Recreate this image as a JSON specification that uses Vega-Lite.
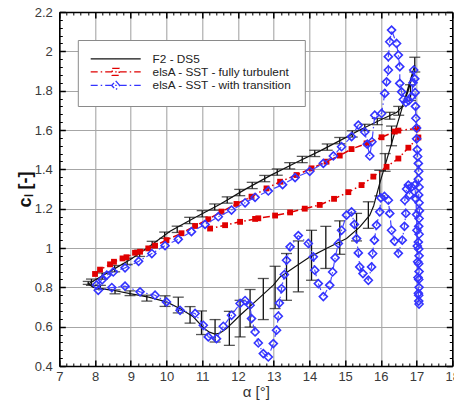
{
  "$schema": "https://vega.github.io/schema/vega-lite/v6.json",
  "width": 393,
  "height": 354,
  "autosize": "none",
  "padding": {"left": 59.3, "top": 12, "right": 1.7, "bottom": 35},
  "config": {
    "font": "Liberation Sans",
    "view": {"stroke": null},
    "axis": {"domain": false, "titleFontWeight": "normal"},
    "legend": {
      "orient": "none", "legendX": 18.5, "legendY": 28, "title": null,
      "padding": 13, "fillColor": "white", "strokeColor": "#8a8a8a",
      "symbolSize": 36, "symbolStrokeWidth": 1.4, "rowPadding": -1.5,
      "labelFontSize": 11.8, "labelColor": "#222", "labelOffset": 50, "labelLimit": 300
    }
  },
  "datasets": {
    "exp": [
      {"i": 1, "a": 7.8, "c": 0.82}, {"i": 2, "a": 7.86, "c": 0.822}, {"i": 3, "a": 8.5, "c": 0.89},
      {"i": 4, "a": 8.98, "c": 0.94}, {"i": 5, "a": 9.5, "c": 1.005}, {"i": 6, "a": 10.1, "c": 1.085},
      {"i": 7, "a": 10.8, "c": 1.155}, {"i": 8, "a": 11.5, "c": 1.222}, {"i": 9, "a": 12.2, "c": 1.298},
      {"i": 10, "a": 12.9, "c": 1.368}, {"i": 11, "a": 13.6, "c": 1.432}, {"i": 12, "a": 14.3, "c": 1.494},
      {"i": 13, "a": 15.0, "c": 1.56}, {"i": 14, "a": 15.41, "c": 1.6}, {"i": 15, "a": 16.0, "c": 1.652},
      {"i": 16, "a": 16.45, "c": 1.69}, {"i": 17, "a": 16.6, "c": 1.72}, {"i": 18, "a": 16.75, "c": 1.79},
      {"i": 19, "a": 16.88, "c": 1.87}, {"i": 20, "a": 16.95, "c": 1.93}, {"i": 21, "a": 16.6, "c": 1.715},
      {"i": 22, "a": 16.25, "c": 1.5}, {"i": 23, "a": 15.97, "c": 1.33}, {"i": 24, "a": 15.8, "c": 1.215},
      {"i": 25, "a": 15.69, "c": 1.167}, {"i": 26, "a": 15.4, "c": 1.105}, {"i": 27, "a": 15.04, "c": 1.048},
      {"i": 28, "a": 14.5, "c": 1.0}, {"i": 29, "a": 14.02, "c": 0.955}, {"i": 30, "a": 13.6, "c": 0.905},
      {"i": 31, "a": 13.18, "c": 0.853}, {"i": 32, "a": 12.99, "c": 0.811}, {"i": 33, "a": 12.5, "c": 0.73},
      {"i": 34, "a": 12.06, "c": 0.658}, {"i": 35, "a": 11.68, "c": 0.59}, {"i": 36, "a": 11.5, "c": 0.568},
      {"i": 37, "a": 11.36, "c": 0.562}, {"i": 38, "a": 11.2, "c": 0.572}, {"i": 39, "a": 11.03, "c": 0.595},
      {"i": 40, "a": 10.75, "c": 0.65}, {"i": 41, "a": 10.4, "c": 0.69}, {"i": 42, "a": 10.0, "c": 0.726},
      {"i": 43, "a": 9.5, "c": 0.75}, {"i": 44, "a": 8.98, "c": 0.768}, {"i": 45, "a": 8.5, "c": 0.785},
      {"i": 46, "a": 7.95, "c": 0.8}, {"i": 47, "a": 7.8, "c": 0.82}
    ],
    "bars": [
      {"a": 7.9, "lo": 0.81, "hi": 0.842}, {"a": 8.2, "lo": 0.841, "hi": 0.873}, {"a": 8.55, "lo": 0.879, "hi": 0.911},
      {"a": 8.9, "lo": 0.916, "hi": 0.948}, {"a": 9.25, "lo": 0.957, "hi": 0.989}, {"a": 9.6, "lo": 1.002, "hi": 1.034},
      {"a": 9.95, "lo": 1.049, "hi": 1.081}, {"a": 10.3, "lo": 1.079, "hi": 1.111}, {"a": 10.65, "lo": 1.124, "hi": 1.156},
      {"a": 11.0, "lo": 1.158, "hi": 1.19}, {"a": 11.35, "lo": 1.192, "hi": 1.224}, {"a": 11.7, "lo": 1.228, "hi": 1.26},
      {"a": 12.05, "lo": 1.266, "hi": 1.298}, {"a": 12.4, "lo": 1.302, "hi": 1.334}, {"a": 12.75, "lo": 1.337, "hi": 1.369},
      {"a": 13.1, "lo": 1.37, "hi": 1.402}, {"a": 13.45, "lo": 1.402, "hi": 1.434}, {"a": 13.8, "lo": 1.434, "hi": 1.466},
      {"a": 14.15, "lo": 1.465, "hi": 1.497}, {"a": 14.5, "lo": 1.497, "hi": 1.529}, {"a": 14.85, "lo": 1.53, "hi": 1.562},
      {"a": 15.2, "lo": 1.564, "hi": 1.596}, {"a": 15.55, "lo": 1.597, "hi": 1.629}, {"a": 15.9, "lo": 1.627, "hi": 1.659},
      {"a": 16.25, "lo": 1.655, "hi": 1.69}, {"a": 16.5, "lo": 1.675, "hi": 1.72},
      {"a": 16.95, "lo": 1.895, "hi": 1.97}, {"a": 16.83, "lo": 1.75, "hi": 1.83}, {"a": 16.3, "lo": 1.52, "hi": 1.62},
      {"a": 16.12, "lo": 1.39, "hi": 1.48}, {"a": 15.97, "lo": 1.265, "hi": 1.395}, {"a": 15.65, "lo": 1.1, "hi": 1.235},
      {"a": 15.32, "lo": 1.036, "hi": 1.176}, {"a": 14.85, "lo": 0.968, "hi": 1.138}, {"a": 14.46, "lo": 0.896, "hi": 1.11},
      {"a": 14.06, "lo": 0.836, "hi": 1.09}, {"a": 13.69, "lo": 0.777, "hi": 1.036}, {"a": 13.36, "lo": 0.734, "hi": 0.972},
      {"a": 13.04, "lo": 0.692, "hi": 0.907}, {"a": 12.71, "lo": 0.636, "hi": 0.845}, {"a": 12.34, "lo": 0.598, "hi": 0.789},
      {"a": 12.06, "lo": 0.548, "hi": 0.734}, {"a": 11.76, "lo": 0.505, "hi": 0.678}, {"a": 11.36, "lo": 0.522, "hi": 0.636},
      {"a": 10.98, "lo": 0.56, "hi": 0.68}, {"a": 10.66, "lo": 0.618, "hi": 0.702}, {"a": 10.33, "lo": 0.67, "hi": 0.75},
      {"a": 9.96, "lo": 0.703, "hi": 0.757}, {"a": 9.45, "lo": 0.73, "hi": 0.76}, {"a": 8.98, "lo": 0.758, "hi": 0.782},
      {"a": 8.56, "lo": 0.767, "hi": 0.787}, {"a": 8.15, "lo": 0.79, "hi": 0.81}, {"a": 7.81, "lo": 0.815, "hi": 0.83}
    ],
    "ft": [
      {"i": 1, "a": 8.0, "c": 0.868}, {"i": 2, "a": 8.14, "c": 0.89}, {"i": 3, "a": 8.42, "c": 0.917},
      {"i": 4, "a": 8.53, "c": 0.93}, {"i": 5, "a": 8.77, "c": 0.947}, {"i": 6, "a": 8.88, "c": 0.953},
      {"i": 7, "a": 9.12, "c": 0.976}, {"i": 8, "a": 9.26, "c": 0.981}, {"i": 9, "a": 9.49, "c": 0.998},
      {"i": 10, "a": 9.68, "c": 1.012}, {"i": 11, "a": 10.0, "c": 1.04}, {"i": 12, "a": 10.42, "c": 1.075},
      {"i": 13, "a": 10.8, "c": 1.112}, {"i": 14, "a": 11.17, "c": 1.146}, {"i": 15, "a": 11.54, "c": 1.185},
      {"i": 16, "a": 11.96, "c": 1.224}, {"i": 17, "a": 12.38, "c": 1.261}, {"i": 18, "a": 12.8, "c": 1.303},
      {"i": 19, "a": 13.18, "c": 1.337}, {"i": 20, "a": 13.64, "c": 1.371}, {"i": 21, "a": 14.06, "c": 1.405},
      {"i": 22, "a": 14.48, "c": 1.439}, {"i": 23, "a": 14.85, "c": 1.47}, {"i": 24, "a": 15.18, "c": 1.503},
      {"i": 25, "a": 15.6, "c": 1.532}, {"i": 26, "a": 16.02, "c": 1.563}, {"i": 27, "a": 16.39, "c": 1.592},
      {"i": 28, "a": 16.49, "c": 1.597}, {"i": 29, "a": 17.02, "c": 1.608}, {"i": 30, "a": 17.05, "c": 1.562},
      {"i": 31, "a": 16.77, "c": 1.51}, {"i": 32, "a": 16.49, "c": 1.455}, {"i": 33, "a": 16.16, "c": 1.413},
      {"i": 34, "a": 15.79, "c": 1.363}, {"i": 35, "a": 15.46, "c": 1.32}, {"i": 36, "a": 15.09, "c": 1.284},
      {"i": 37, "a": 14.69, "c": 1.25}, {"i": 38, "a": 14.29, "c": 1.219}, {"i": 39, "a": 13.87, "c": 1.2},
      {"i": 40, "a": 13.46, "c": 1.181}, {"i": 41, "a": 13.04, "c": 1.165}, {"i": 42, "a": 12.57, "c": 1.151},
      {"i": 43, "a": 12.48, "c": 1.148}, {"i": 44, "a": 12.06, "c": 1.133}, {"i": 45, "a": 11.64, "c": 1.116},
      {"i": 46, "a": 11.22, "c": 1.099}
    ],
    "tr": [
      {"i": 1, "a": 8.04, "c": 0.812}, {"i": 2, "a": 8.2, "c": 0.838}, {"i": 3, "a": 8.33, "c": 0.862},
      {"i": 4, "a": 8.51, "c": 0.878}, {"i": 5, "a": 8.84, "c": 0.899}, {"i": 6, "a": 9.22, "c": 0.932},
      {"i": 7, "a": 9.59, "c": 0.972}, {"i": 8, "a": 9.96, "c": 1.012}, {"i": 9, "a": 10.33, "c": 1.044},
      {"i": 10, "a": 10.7, "c": 1.083}, {"i": 11, "a": 11.08, "c": 1.12}, {"i": 12, "a": 11.45, "c": 1.159},
      {"i": 13, "a": 11.82, "c": 1.193}, {"i": 14, "a": 12.2, "c": 1.23}, {"i": 15, "a": 12.48, "c": 1.258},
      {"i": 16, "a": 12.85, "c": 1.29}, {"i": 17, "a": 13.25, "c": 1.322}, {"i": 18, "a": 13.6, "c": 1.358},
      {"i": 19, "a": 14.01, "c": 1.39}, {"i": 20, "a": 14.39, "c": 1.43}, {"i": 21, "a": 14.67, "c": 1.468},
      {"i": 22, "a": 14.9, "c": 1.515}, {"i": 23, "a": 15.18, "c": 1.566}, {"i": 24, "a": 15.37, "c": 1.625},
      {"i": 25, "a": 15.55, "c": 1.59}, {"i": 26, "a": 15.62, "c": 1.528}, {"i": 27, "a": 15.69, "c": 1.468},
      {"i": 28, "a": 15.75, "c": 1.54}, {"i": 29, "a": 15.83, "c": 1.675}, {"i": 30, "a": 16.02, "c": 1.684},
      {"i": 31, "a": 16.11, "c": 1.786}, {"i": 32, "a": 16.16, "c": 1.845}, {"i": 33, "a": 16.21, "c": 1.905},
      {"i": 34, "a": 16.21, "c": 1.973}, {"i": 35, "a": 16.25, "c": 2.049}, {"i": 36, "a": 16.3, "c": 2.108},
      {"i": 37, "a": 16.44, "c": 2.04}, {"i": 38, "a": 16.49, "c": 1.981}, {"i": 39, "a": 16.53, "c": 1.922},
      {"i": 40, "a": 16.53, "c": 1.837}, {"i": 41, "a": 16.58, "c": 1.794}, {"i": 42, "a": 16.63, "c": 1.755},
      {"i": 43, "a": 16.7, "c": 1.74}, {"i": 44, "a": 16.78, "c": 1.75}, {"i": 45, "a": 16.86, "c": 1.77},
      {"i": 46, "a": 16.9, "c": 1.84}, {"i": 47, "a": 16.92, "c": 1.905}, {"i": 48, "a": 16.95, "c": 1.86},
      {"i": 49, "a": 16.96, "c": 1.79}, {"i": 50, "a": 16.97, "c": 1.72}, {"i": 51, "a": 16.98, "c": 1.66},
      {"i": 52, "a": 17.0, "c": 1.61}, {"i": 53, "a": 17.0, "c": 1.555}, {"i": 54, "a": 17.02, "c": 1.5},
      {"i": 55, "a": 17.03, "c": 1.465}, {"i": 56, "a": 17.05, "c": 1.43}, {"i": 57, "a": 17.06, "c": 1.39},
      {"i": 58, "a": 17.05, "c": 1.35}, {"i": 59, "a": 17.07, "c": 1.31}, {"i": 60, "a": 17.06, "c": 1.27},
      {"i": 61, "a": 17.07, "c": 1.23}, {"i": 62, "a": 17.08, "c": 1.19}, {"i": 63, "a": 17.07, "c": 1.15},
      {"i": 64, "a": 17.06, "c": 1.11}, {"i": 65, "a": 17.07, "c": 1.07}, {"i": 66, "a": 17.05, "c": 1.03},
      {"i": 67, "a": 17.06, "c": 0.995}, {"i": 68, "a": 17.07, "c": 0.96}, {"i": 69, "a": 17.06, "c": 0.92},
      {"i": 70, "a": 17.07, "c": 0.88}, {"i": 71, "a": 17.06, "c": 0.84}, {"i": 72, "a": 17.07, "c": 0.8},
      {"i": 73, "a": 17.06, "c": 0.76}, {"i": 74, "a": 17.06, "c": 0.73}, {"i": 75, "a": 17.07, "c": 0.715},
      {"i": 76, "a": 17.05, "c": 0.77}, {"i": 77, "a": 17.04, "c": 0.85}, {"i": 78, "a": 17.03, "c": 0.93},
      {"i": 79, "a": 17.02, "c": 1.01}, {"i": 80, "a": 17.01, "c": 1.09}, {"i": 81, "a": 17.0, "c": 1.17},
      {"i": 82, "a": 16.98, "c": 1.25}, {"i": 83, "a": 16.95, "c": 1.32}, {"i": 84, "a": 16.86, "c": 1.31},
      {"i": 85, "a": 16.81, "c": 1.27}, {"i": 86, "a": 16.77, "c": 1.32}, {"i": 87, "a": 16.72, "c": 1.3},
      {"i": 88, "a": 16.67, "c": 1.243}, {"i": 89, "a": 16.7, "c": 1.176}, {"i": 90, "a": 16.66, "c": 1.11},
      {"i": 91, "a": 16.6, "c": 1.04}, {"i": 92, "a": 16.49, "c": 0.973}, {"i": 93, "a": 16.38, "c": 1.035},
      {"i": 94, "a": 16.3, "c": 1.09}, {"i": 95, "a": 16.25, "c": 1.176}, {"i": 96, "a": 16.21, "c": 1.243},
      {"i": 97, "a": 16.1, "c": 1.262}, {"i": 98, "a": 16.0, "c": 1.255}, {"i": 99, "a": 15.97, "c": 1.184},
      {"i": 100, "a": 15.88, "c": 1.116}, {"i": 101, "a": 15.82, "c": 1.04}, {"i": 102, "a": 15.77, "c": 0.972},
      {"i": 103, "a": 15.74, "c": 0.904}, {"i": 104, "a": 15.65, "c": 0.836}, {"i": 105, "a": 15.5, "c": 0.87},
      {"i": 106, "a": 15.41, "c": 0.904}, {"i": 107, "a": 15.37, "c": 0.975}, {"i": 108, "a": 15.32, "c": 1.048},
      {"i": 109, "a": 15.26, "c": 1.12}, {"i": 110, "a": 15.18, "c": 1.184}, {"i": 111, "a": 15.04, "c": 1.167},
      {"i": 112, "a": 14.9, "c": 1.09}, {"i": 113, "a": 14.81, "c": 1.023}, {"i": 114, "a": 14.72, "c": 0.95},
      {"i": 115, "a": 14.65, "c": 0.878}, {"i": 116, "a": 14.57, "c": 0.811}, {"i": 117, "a": 14.39, "c": 0.753},
      {"i": 118, "a": 14.25, "c": 0.819}, {"i": 119, "a": 14.15, "c": 0.887}, {"i": 120, "a": 14.11, "c": 0.955},
      {"i": 121, "a": 13.97, "c": 1.023}, {"i": 122, "a": 13.69, "c": 1.063}, {"i": 123, "a": 13.46, "c": 1.006},
      {"i": 124, "a": 13.36, "c": 0.938}, {"i": 125, "a": 13.3, "c": 0.865}, {"i": 126, "a": 13.22, "c": 0.794},
      {"i": 127, "a": 13.16, "c": 0.72}, {"i": 128, "a": 13.13, "c": 0.653}, {"i": 129, "a": 13.08, "c": 0.582},
      {"i": 130, "a": 12.99, "c": 0.514}, {"i": 131, "a": 12.85, "c": 0.446}, {"i": 132, "a": 12.71, "c": 0.463},
      {"i": 133, "a": 12.57, "c": 0.517}, {"i": 134, "a": 12.48, "c": 0.573}, {"i": 135, "a": 12.38, "c": 0.641},
      {"i": 136, "a": 12.34, "c": 0.709}, {"i": 137, "a": 12.2, "c": 0.733}, {"i": 138, "a": 12.06, "c": 0.718},
      {"i": 139, "a": 11.82, "c": 0.658}, {"i": 140, "a": 11.59, "c": 0.602}, {"i": 141, "a": 11.4, "c": 0.539},
      {"i": 142, "a": 11.17, "c": 0.548}, {"i": 143, "a": 11.03, "c": 0.607}, {"i": 144, "a": 10.8, "c": 0.667},
      {"i": 145, "a": 10.38, "c": 0.683}, {"i": 146, "a": 10.0, "c": 0.726}, {"i": 147, "a": 9.68, "c": 0.76},
      {"i": 148, "a": 9.26, "c": 0.777}, {"i": 149, "a": 8.84, "c": 0.806}, {"i": 150, "a": 8.47, "c": 0.799},
      {"i": 151, "a": 8.09, "c": 0.785}
    ],
    "series": [
      {"s": "F2 - DS5"},
      {"s": "elsA - SST - fully turbulent"},
      {"s": "elsA - SST - with transition"}
    ]
  },
  "resolve": {"axis": {"x": "independent", "y": "independent"}},
  "layer": [
    {
      "data": {"name": "exp"},
      "mark": {"type": "line", "color": "#111", "strokeWidth": 1.2},
      "encoding": {
        "x": {"field": "a", "type": "quantitative", "scale": {"domain": [7, 18], "nice": false, "zero": false},
          "axis": {"orient": "bottom", "values": [7, 8, 9, 10, 11, 12, 13, 14, 15, 16, 17, 18], "grid": true, "gridColor": "#a6a6a6", "gridWidth": 1.1,
            "ticks": false, "labelFontSize": 13, "labelColor": "#3a3a3a", "labelPadding": 4, "labelFlush": false,
            "title": "α [°]", "titleFontSize": 15, "titleColor": "#333", "titlePadding": 1}},
        "y": {"field": "c", "type": "quantitative", "scale": {"domain": [0.4, 2.2], "nice": false, "zero": false},
          "axis": {"orient": "left", "values": [0.4, 0.6, 0.8, 1, 1.2, 1.4, 1.6, 1.8, 2, 2.2], "format": "~g", "grid": true, "gridColor": "#a6a6a6", "gridWidth": 1.1,
            "ticks": false, "labelFontSize": 13, "labelColor": "#3a3a3a", "labelPadding": 7, "labelFlush": false,
            "title": "cₗ [-]", "titleFontSize": 18, "titleFontWeight": "bold", "titleColor": "#111", "titlePadding": 0}},
        "order": {"field": "i", "type": "quantitative"}
      }
    },
    {
      "data": {"name": "bars"},
      "mark": {"type": "rule", "color": "#111", "strokeWidth": 1.3},
      "encoding": {
        "x": {"field": "a", "type": "quantitative", "scale": {"domain": [7, 18], "nice": false, "zero": false},
          "axis": {"orient": "bottom", "values": [7, 8, 9, 10, 11, 12, 13, 14, 15, 16, 17, 18], "labels": false, "grid": false, "title": null,
            "ticks": true, "tickSize": -6, "tickColor": "#000", "tickWidth": 1.5, "domain": true, "domainColor": "#000", "domainWidth": 1.6, "zindex": 1}},
        "y": {"field": "lo", "type": "quantitative", "scale": {"domain": [0.4, 2.2], "nice": false, "zero": false},
          "axis": {"orient": "left", "values": [0.4, 0.6, 0.8, 1, 1.2, 1.4, 1.6, 1.8, 2, 2.2], "labels": false, "grid": false, "title": null,
            "ticks": true, "tickSize": -6, "tickColor": "#000", "tickWidth": 1.5, "domain": true, "domainColor": "#000", "domainWidth": 1.6, "zindex": 1}},
        "y2": {"field": "hi"}
      }
    },
    {
      "data": {"name": "bars"},
      "mark": {"type": "tick", "orient": "horizontal", "color": "#111", "size": 11, "thickness": 1.3},
      "encoding": {
        "x": {"field": "a", "type": "quantitative", "scale": {"domain": [7, 18], "nice": false, "zero": false},
          "axis": {"orient": "bottom", "values": [7.2, 7.4, 7.6, 7.8, 8.2, 8.4, 8.6, 8.8, 9.2, 9.4, 9.6, 9.8, 10.2, 10.4, 10.6, 10.8, 11.2, 11.4, 11.6, 11.8, 12.2, 12.4, 12.6, 12.8, 13.2, 13.4, 13.6, 13.8, 14.2, 14.4, 14.6, 14.8, 15.2, 15.4, 15.6, 15.8, 16.2, 16.4, 16.6, 16.8, 17.2, 17.4, 17.6, 17.8],
            "labels": false, "grid": false, "title": null, "ticks": true, "tickSize": -3, "tickColor": "#000", "tickWidth": 1, "zindex": 1}},
        "y": {"field": "lo", "type": "quantitative", "scale": {"domain": [0.4, 2.2], "nice": false, "zero": false},
          "axis": {"orient": "left", "values": [0.44, 0.48, 0.52, 0.56, 0.64, 0.68, 0.72, 0.76, 0.84, 0.88, 0.92, 0.96, 1.04, 1.08, 1.12, 1.16, 1.24, 1.28, 1.32, 1.36, 1.44, 1.48, 1.52, 1.56, 1.64, 1.68, 1.72, 1.76, 1.84, 1.88, 1.92, 1.96, 2.04, 2.08, 2.12, 2.16],
            "labels": false, "grid": false, "title": null, "ticks": true, "tickSize": -3, "tickColor": "#000", "tickWidth": 1, "zindex": 1}}
      }
    },
    {
      "data": {"name": "bars"},
      "mark": {"type": "tick", "orient": "horizontal", "color": "#111", "size": 11, "thickness": 1.3},
      "encoding": {
        "x": {"field": "a", "type": "quantitative", "scale": {"domain": [7, 18], "nice": false, "zero": false},
          "axis": {"orient": "top", "values": [7, 8, 9, 10, 11, 12, 13, 14, 15, 16, 17, 18], "labels": false, "grid": false, "title": null,
            "ticks": true, "tickSize": -6, "tickColor": "#000", "tickWidth": 1.5, "domain": true, "domainColor": "#000", "domainWidth": 1.6, "zindex": 1}},
        "y": {"field": "hi", "type": "quantitative", "scale": {"domain": [0.4, 2.2], "nice": false, "zero": false},
          "axis": {"orient": "right", "values": [0.4, 0.6, 0.8, 1, 1.2, 1.4, 1.6, 1.8, 2, 2.2], "labels": false, "grid": false, "title": null,
            "ticks": true, "tickSize": -6, "tickColor": "#000", "tickWidth": 1.5, "domain": true, "domainColor": "#000", "domainWidth": 1.6, "zindex": 1}}
      }
    },
    {
      "data": {"name": "ft"},
      "mark": {"type": "line", "color": "#e00000", "strokeWidth": 1.5, "strokeDash": [7, 3, 1.5, 3]},
      "encoding": {
        "x": {"field": "a", "type": "quantitative", "scale": {"domain": [7, 18], "nice": false, "zero": false},
          "axis": {"orient": "top", "values": [7.2, 7.4, 7.6, 7.8, 8.2, 8.4, 8.6, 8.8, 9.2, 9.4, 9.6, 9.8, 10.2, 10.4, 10.6, 10.8, 11.2, 11.4, 11.6, 11.8, 12.2, 12.4, 12.6, 12.8, 13.2, 13.4, 13.6, 13.8, 14.2, 14.4, 14.6, 14.8, 15.2, 15.4, 15.6, 15.8, 16.2, 16.4, 16.6, 16.8, 17.2, 17.4, 17.6, 17.8],
            "labels": false, "grid": false, "title": null, "ticks": true, "tickSize": -3, "tickColor": "#000", "tickWidth": 1, "zindex": 1}},
        "y": {"field": "c", "type": "quantitative", "scale": {"domain": [0.4, 2.2], "nice": false, "zero": false},
          "axis": {"orient": "right", "values": [0.44, 0.48, 0.52, 0.56, 0.64, 0.68, 0.72, 0.76, 0.84, 0.88, 0.92, 0.96, 1.04, 1.08, 1.12, 1.16, 1.24, 1.28, 1.32, 1.36, 1.44, 1.48, 1.52, 1.56, 1.64, 1.68, 1.72, 1.76, 1.84, 1.88, 1.92, 1.96, 2.04, 2.08, 2.12, 2.16],
            "labels": false, "grid": false, "title": null, "ticks": true, "tickSize": -3, "tickColor": "#000", "tickWidth": 1, "zindex": 1}},
        "order": {"field": "i", "type": "quantitative"}
      }
    },
    {
      "data": {"name": "ft"},
      "mark": {"type": "square", "color": "#e00000", "filled": true, "size": 34, "opacity": 1},
      "encoding": {
        "x": {"field": "a", "type": "quantitative", "scale": {"domain": [7, 18], "nice": false, "zero": false}, "axis": null},
        "y": {"field": "c", "type": "quantitative", "scale": {"domain": [0.4, 2.2], "nice": false, "zero": false}, "axis": null}
      }
    },
    {
      "data": {"name": "tr"},
      "mark": {"type": "line", "color": "#4747ff", "strokeWidth": 1.2, "strokeDash": [7, 3, 1.5, 3]},
      "encoding": {
        "x": {"field": "a", "type": "quantitative", "scale": {"domain": [7, 18], "nice": false, "zero": false}, "axis": null},
        "y": {"field": "c", "type": "quantitative", "scale": {"domain": [0.4, 2.2], "nice": false, "zero": false}, "axis": null},
        "order": {"field": "i", "type": "quantitative"}
      }
    },
    {
      "data": {"name": "tr"},
      "mark": {"type": "point", "shape": "diamond", "filled": false, "color": "#3434ff", "strokeWidth": 1.6, "size": 64, "opacity": 1},
      "encoding": {
        "x": {"field": "a", "type": "quantitative", "scale": {"domain": [7, 18], "nice": false, "zero": false}, "axis": null},
        "y": {"field": "c", "type": "quantitative", "scale": {"domain": [0.4, 2.2], "nice": false, "zero": false}, "axis": null}
      }
    },
    {
      "data": {"name": "series"},
      "mark": {"type": "point", "opacity": 0, "filled": false},
      "encoding": {
        "shape": {
          "field": "s", "type": "nominal",
          "scale": {
            "domain": ["F2 - DS5", "elsA - SST - fully turbulent", "elsA - SST - with transition"],
            "range": ["M-2,0H14.67", "M-2,0H14.67M5.17,-1.17H7.5V1.17H5.17Z", "M-2,0H14.67M6.33,-1.5L7.67,0L6.33,1.5L5,0Z"]
          },
          "legend": {}
        },
        "color": {
          "field": "s", "type": "nominal",
          "scale": {
            "domain": ["F2 - DS5", "elsA - SST - fully turbulent", "elsA - SST - with transition"],
            "range": ["#111111", "#e00000", "#3434ff"]
          },
          "legend": {}
        },
        "fill": {
          "field": "s", "type": "nominal",
          "scale": {
            "domain": ["F2 - DS5", "elsA - SST - fully turbulent", "elsA - SST - with transition"],
            "range": ["transparent", "#e00000", "#ffffff"]
          },
          "legend": {}
        },
        "strokeDash": {
          "field": "s", "type": "nominal",
          "scale": {
            "domain": ["F2 - DS5", "elsA - SST - fully turbulent", "elsA - SST - with transition"],
            "range": [[1, 0], [7, 3, 1.5, 3], [7, 3, 1.5, 3]]
          },
          "legend": {}
        }
      }
    }
  ]
}
